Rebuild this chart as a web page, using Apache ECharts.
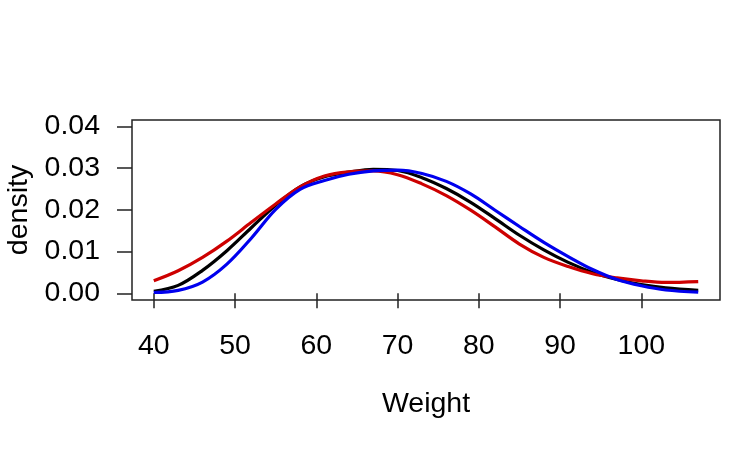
<!DOCTYPE html>
<html>
<head>
<meta charset="utf-8">
<script src="https://cdn.jsdelivr.net/npm/echarts@6/dist/echarts.min.js"></script>
<style>html,body{margin:0;padding:0;background:#fff}#c{width:750px;height:450px}</style>
</head>
<body>
<div id="c"></div>
<script>
// Weight values (x) at which densities were read
var weights = [40, 43, 46, 49, 52, 55, 58, 61, 64, 67, 70, 73, 76, 79, 82, 85, 88, 91, 94, 97, 100, 103, 107];
var densityBlack = [0.0005, 0.0019, 0.0055, 0.0102, 0.0157, 0.0211, 0.0255, 0.0279, 0.0290, 0.0297, 0.0294, 0.0277, 0.0251, 0.0218, 0.0179, 0.0139, 0.0104, 0.0074, 0.0050, 0.0033, 0.0021, 0.0013, 0.0007];
var densityRed   = [0.0030, 0.0054, 0.0086, 0.0125, 0.0170, 0.0214, 0.0255, 0.0281, 0.0291, 0.0293, 0.0284, 0.0262, 0.0234, 0.0199, 0.0159, 0.0118, 0.0086, 0.0064, 0.0047, 0.0037, 0.0030, 0.0026, 0.0028];
var densityBlue  = [0.0002, 0.0007, 0.0027, 0.0070, 0.0132, 0.0201, 0.0249, 0.0270, 0.0285, 0.0293, 0.0295, 0.0287, 0.0268, 0.0238, 0.0199, 0.0160, 0.0122, 0.0088, 0.0057, 0.0033, 0.0018, 0.0008, 0.0003];
var xTicks = [40, 50, 60, 70, 80, 90, 100];
var yTicks = [0, 0.01, 0.02, 0.03, 0.04];

function pairs(xs, ys) { return xs.map(function (x, i) { return [x, ys[i]]; }); }

var font = 'Liberation Sans, Arial, Helvetica, sans-serif';
var chart = echarts.init(document.getElementById('c'), null, { renderer: 'canvas' });
chart.setOption({
  animation: false,
  backgroundColor: '#ffffff',
  grid: { left: 132, right: 30, top: 120, bottom: 150, show: true, borderColor: '#222', borderWidth: 1.5,
          backgroundColor: 'transparent', containLabel: false, outerBoundsMode: 'none' },
  xAxis: {
    type: 'value', min: 37.32, max: 109.68,
    axisLine: { show: false },
    splitLine: { show: false },
    axisTick: { show: true, customValues: xTicks, length: 15, lineStyle: { color: '#222', width: 1.5 } },
    axisLabel: { customValues: xTicks, fontSize: 28.5, color: '#000', fontFamily: font, margin: 32 },
    name: 'Weight', nameLocation: 'middle', nameGap: 90,
    nameTextStyle: { fontSize: 28.5, color: '#000', fontFamily: font }
  },
  yAxis: {
    type: 'value', min: -0.0016, max: 0.0415,
    axisLine: { show: false },
    splitLine: { show: false },
    axisTick: { show: true, customValues: yTicks, length: 15, lineStyle: { color: '#222', width: 1.5 } },
    axisLabel: { customValues: yTicks, fontSize: 28.5, color: '#000', fontFamily: font, margin: 32,
      formatter: function (v) { return v.toFixed(2); } },
    name: 'density', nameLocation: 'middle', nameGap: 98, nameRotate: 90,
    nameTextStyle: { fontSize: 28.5, color: '#000', fontFamily: font }
  },
  series: [
    { type: 'line', data: pairs(weights, densityBlack), smooth: 0.35, showSymbol: false, lineStyle: { color: '#000000', width: 3.2 }, z: 3 },
    { type: 'line', data: pairs(weights, densityRed), smooth: 0.35, showSymbol: false, lineStyle: { color: '#cd0000', width: 3.2 }, z: 4 },
    { type: 'line', data: pairs(weights, densityBlue), smooth: 0.35, showSymbol: false, lineStyle: { color: '#0000ee', width: 3.2 }, z: 5 }
  ]
});
</script>
</body>
</html>
